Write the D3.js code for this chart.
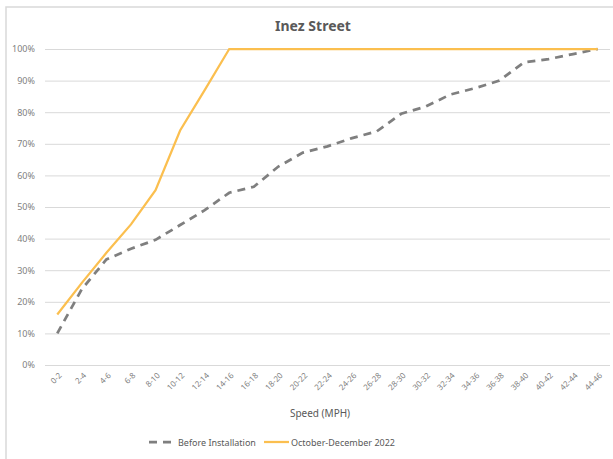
<!DOCTYPE html>
<html>
<head>
<meta charset="utf-8">
<script src="https://cdn.jsdelivr.net/npm/d3@7"></script>
<style>
  body { margin: 0; background: #fff; }
  text { font-family: "Noto Sans", Lato, sans-serif; }
</style>
</head>
<body>
<div id="chart"></div>
<script>
// speed bins and cumulative share of vehicles
var speeds = ["0-2","2-4","4-6","6-8","8-10","10-12","12-14","14-16","16-18","18-20","20-22","22-24",
  "24-26","26-28","28-30","30-32","32-34","34-36","36-38","38-40","40-42","42-44","44-46"];
var before = [10, 24, 33.4, 36.8, 39.6, 44.3, 49, 54.5, 56.4, 62.8, 67.2, 69.2,
  71.8, 73.9, 79.5, 81.8, 85.6, 87.6, 90, 95.8, 96.8, 98.4, 100];
var after = [16, 26, 35.5, 44.5, 55.3, 74.2, 87, 100, 100, 100, 100, 100,
  100, 100, 100, 100, 100, 100, 100, 100, 100, 100, 100];
var yTicks = [0, 10, 20, 30, 40, 50, 60, 70, 80, 90, 100];

var W = 613, H = 459;
var margin = {top: 49, right: 3, bottom: 94, left: 45},
  width = W - margin.left - margin.right,
  height = H - margin.top - margin.bottom;

var svg = d3.select("#chart").append("svg")
  .attr("width", W)
  .attr("height", H);

// chart area border
svg.append("rect")
  .attr("x", 6).attr("y", 7)
  .attr("width", W + 10).attr("height", H + 10)
  .attr("fill", "#fff")
  .attr("stroke", "#d9d9d9")
  .attr("stroke-width", 1.5);

svg.append("text")
  .attr("x", 313).attr("y", 31)
  .attr("text-anchor", "middle")
  .style("font-size", "14px")
  .style("font-weight", "bold")
  .style("fill", "#595959")
  .text("Inez Street");

var g = svg.append("g")
  .attr("transform", "translate(" + margin.left + "," + margin.top + ")");

var x = d3.scalePoint()
  .domain(speeds)
  .range([0, width])
  .padding(0.5);

var y = d3.scaleLinear()
  .domain([0, 100])
  .range([height, 0]);

// gridlines
g.append("g")
  .call(d3.axisLeft(y).tickValues(yTicks).tickSize(-width).tickFormat(function(d) { return d + "%"; }))
  .call(function(a) {
    a.select(".domain").remove();
    a.selectAll(".tick line").attr("stroke", "#d9d9d9").attr("stroke-width", 1);
    a.selectAll(".tick text")
      .attr("x", -10)
      .style("font-size", "9px")
      .style("fill", "#7f7f7f");
  });

// x labels, rotated 45 degrees
g.append("g")
  .selectAll("text")
  .data(speeds)
  .enter()
  .append("text")
  .attr("transform", function(d) { return "translate(" + (x(d) + 3) + "," + (height + 9) + ") rotate(-45)"; })
  .attr("text-anchor", "end")
  .attr("dy", "0.35em")
  .style("font-size", "8px")
  .style("fill", "#7f7f7f")
  .text(function(d) { return d; });

g.append("text")
  .attr("x", 275).attr("y", height + 52)
  .attr("text-anchor", "middle")
  .style("font-size", "10px")
  .style("fill", "#595959")
  .text("Speed (MPH)");

var line = d3.line()
  .x(function(d, i) { return x(speeds[i]); })
  .y(function(d) { return y(d); });

g.append("path")
  .datum(before)
  .attr("fill", "none")
  .attr("stroke", "#7f7f7f")
  .attr("stroke-width", 2.75)
  .attr("stroke-dasharray", "8,6")
  .attr("d", line);

g.append("path")
  .datum(after)
  .attr("fill", "none")
  .attr("stroke", "#fbbf4f")
  .attr("stroke-width", 2.25)
  .attr("d", line);

// legend
var leg = svg.append("g").attr("transform", "translate(0,442)");
leg.append("line")
  .attr("x1", 149).attr("x2", 173).attr("y1", 0).attr("y2", 0)
  .attr("stroke", "#7f7f7f").attr("stroke-width", 2.75).attr("stroke-dasharray", "8,6");
leg.append("text")
  .attr("x", 178).attr("y", 3.5)
  .style("font-size", "9px").style("fill", "#595959")
  .text("Before Installation");
leg.append("line")
  .attr("x1", 264).attr("x2", 289).attr("y1", 0).attr("y2", 0)
  .attr("stroke", "#fbbf4f").attr("stroke-width", 2.25);
leg.append("text")
  .attr("x", 291).attr("y", 3.5)
  .style("font-size", "9px").style("fill", "#595959")
  .text("October-December 2022");
</script>
</body>
</html>
